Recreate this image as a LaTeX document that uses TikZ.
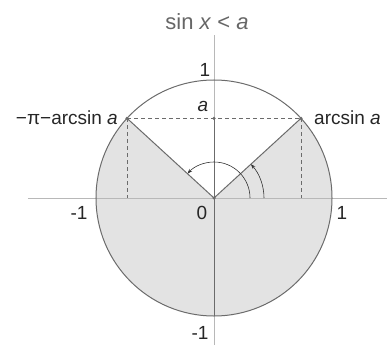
\documentclass[tikz,border=0pt]{standalone}
\usepackage{fontspec}
\setmainfont{Liberation Sans}
\usetikzlibrary{arrows.meta,positioning}

\definecolor{rimgray}{gray}{0.42}
\definecolor{axisgray}{gray}{0.72}
\definecolor{shadegray}{gray}{0.89}
\definecolor{titlegray}{gray}{0.4}

\begin{document}
\begin{tikzpicture}[
        x=1pt, y=1pt,
        axis/.style={draw=axisgray, line width=0.8pt},
        rim/.style={draw=rimgray, line width=1pt},
        guide/.style={draw=rimgray, line width=0.6pt, dash pattern=on 4pt off 3pt},
        turn/.style={draw=black!80, line width=0.6pt, -{Stealth[length=5pt, width=3.5pt]}},
        dot/.style={circle, fill=rimgray, inner sep=0pt, minimum size=3.5pt},
        lbl/.style={font=\fontsize{19}{22}\selectfont, text=black!85, inner sep=1pt}
    ]
        \useasboundingbox (-214,-147) rectangle (173,198);

        % shaded part of the disc
        \fill[shadegray] (0,0) -- (42.5:118) arc[start angle=42.5, end angle=-222.5, radius=118] -- cycle;

        % axes
        \draw[axis] (-186,0) -- (173,0);
        \draw[axis] (0,-147) -- (0,163);

        % points
        \coordinate (O) at (0,0);
        \coordinate (P) at (42.5:118);
        \coordinate (Q) at (137.5:118);
        \coordinate (A) at (0,{118*sin(42.5)});
        \coordinate (B) at (0,-118);
        \coordinate (Pb) at ({118*cos(42.5)},0);
        \coordinate (Qb) at ({-118*cos(42.5)},0);

        \draw[rim] (O) circle[radius=118];
        \draw[rim] (B) -- (A);
        \draw[rim] (O) -- (P);
        \draw[rim] (O) -- (Q);

        \draw[guide] (Q) -- (P);
        \draw[guide] (P) -- (Pb);
        \draw[guide] (Q) -- (Qb);

        % angles
        \draw[turn] (36,0) arc[start angle=0, end angle=137.5, radius=36];
        \draw[turn] (50,0) arc[start angle=0, end angle=42.5, radius=50];

        \node[dot] (o) at (O) {};
        \node[dot] (p) at (P) {};
        \node[dot] (q) at (Q) {};
        \node[dot] (a) at (A) {};

        % labels
        \node[lbl, font=\fontsize{22}{26}\selectfont, text=titlegray] (title) at (-7,176) {sin \textit{x} < \textit{a}};
        \node[lbl] (one) at (-9,128) {1};
        \node[lbl] (alab) at (-11,92) {\textit{a}};
        \node[lbl, anchor=west] (plab) at (99,80) {arcsin \textit{a}};
        \node[lbl, anchor=east] (qlab) at (-95,80) {−π−arcsin \textit{a}};
        \node[lbl] (zero) at (-12,-15) {0};
        \node[lbl] (mone) at (-135,-15) {-1};
        \node[lbl] (pone) at (128,-15) {1};
        \node[lbl] (bone) at (-14,-135) {-1};
\end{tikzpicture}
\end{document}
